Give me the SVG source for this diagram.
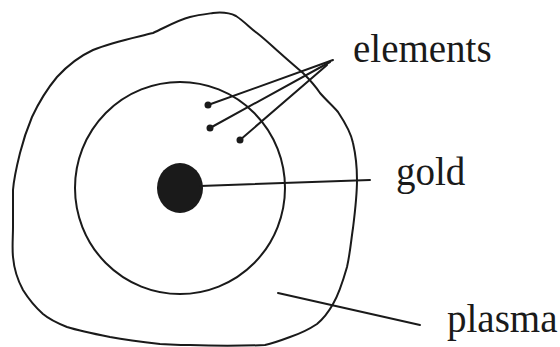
<svg xmlns="http://www.w3.org/2000/svg" width="560" height="347" viewBox="0 0 560 347">
<style>
.outline{fill:none;stroke:#1a1a1a;stroke-width:2;stroke-linejoin:round;stroke-linecap:round}
.lead{fill:none;stroke:#1a1a1a;stroke-width:2;stroke-linecap:round}
.dot{fill:#1a1a1a}
.lbl{font-family:"Liberation Serif","Times New Roman",serif;font-size:39px;fill:#1a1a1a}
</style>
<rect width="560" height="347" fill="#ffffff"/>
<g id="plasma-region">
<path class="outline" d="M213,13 C222,12 230,13 236,16 C245,22 250,28 257,33 C266,40 273,47 280,53 C290,62 296,67 303,73 C310,80 316,87 320,93 C327,101 333,106 338,112 C346,124 351,133 353,143 C356,156 357,168 357,180 C357,196 355,212 353,228 C351,241 350,254 347,267 C343,281 339,294 333,304 C328,313 323,319 317,324 C308,330 299,334 290,337 C282,340 274,343 265,345 C240,346 215,346 190,345 C175,345 168,344 160,344 C143,342 127,340 110,337 C95,334 80,331 67,327 C57,323 49,319 43,314 C34,306 28,298 23,290 C17,279 14,268 13,257 C12,247 13,237 13,227 C13,215 13,202 13,190 C14,177 17,165 20,153 C23,141 27,129 32,117 C39,102 47,89 57,77 C68,65 80,56 93,50 C112,42 133,38 153,33 C166,27 178,20 190,17 C198,15 206,14 213,13 Z"/>
</g>
<g id="elements-region">
<ellipse class="outline" cx="180" cy="188" rx="105" ry="106"/>
</g>
<g id="gold">
<ellipse class="dot" cx="180" cy="188" rx="23" ry="25"/>
</g>
<g id="connectors">
<line class="lead" x1="208" y1="105" x2="333" y2="60"/>
<line class="lead" x1="210" y1="128" x2="330" y2="62"/>
<line class="lead" x1="240" y1="140" x2="327" y2="65"/>
<circle class="dot" cx="208" cy="105" r="3.5"/>
<circle class="dot" cx="210" cy="128" r="3.5"/>
<circle class="dot" cx="240" cy="140" r="3.5"/>
<line class="lead" x1="200" y1="186" x2="370" y2="180" stroke-width="2.5"/>
<line class="lead" x1="278" y1="293" x2="420" y2="325"/>
</g>
<g id="labels">
<text class="lbl" x="353" y="62">elements</text>
<text class="lbl" x="396" y="185">gold</text>
<text class="lbl" x="447" y="332">plasma</text>
</g>
</svg>
